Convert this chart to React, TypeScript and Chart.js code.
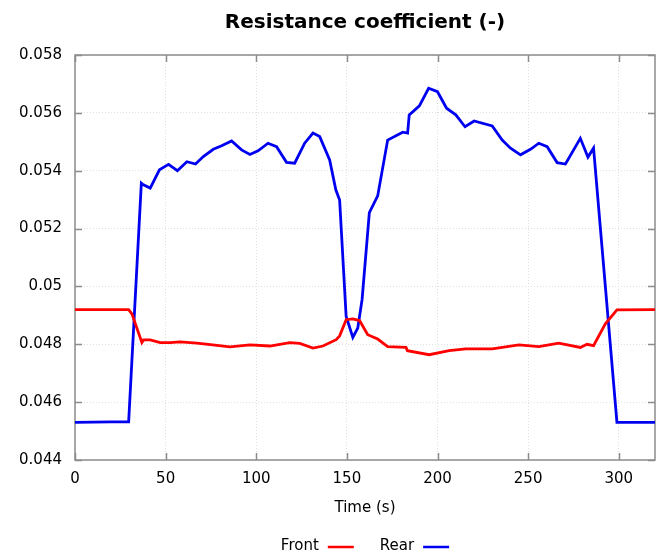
import React, { useEffect, useRef } from "react";
import { Chart, registerables } from "chart.js";

Chart.register(...registerables);

const chartTitle = "Resistance coefficient (-)";
const xAxisTitle = "Time (s)";
const seriesNames = ["Front", "Rear"];
const seriesColors = ["rgb(255,0,0)", "rgb(0,0,240)"];

const frontTime = [0, 29.6, 31.4, 36.9, 37.8, 41.5, 47, 52.5, 58, 67.2, 76, 85.5, 96.5, 107.5, 118.5, 124, 131.3, 136.8, 144.1, 146, 149.6, 153.3, 157, 161.5, 167, 172.5, 182.6, 183.4, 195.4, 206.4, 215.6, 230.2, 244.9, 255.9, 266.9, 278.8, 282.5, 286.1, 292.6, 299, 320];
const frontValue = [0.0492, 0.0492, 0.04905, 0.04806, 0.04815, 0.04815, 0.04806, 0.04806, 0.04808, 0.04804, 0.04798, 0.04791, 0.04798, 0.04794, 0.04806, 0.04803, 0.04787, 0.04794, 0.04816, 0.04829, 0.04885, 0.04888, 0.04882, 0.04833, 0.04818, 0.04792, 0.04789, 0.04778, 0.04764, 0.04778, 0.04784, 0.04784, 0.04798, 0.04792, 0.04804, 0.04789, 0.048, 0.04795, 0.04871, 0.04919, 0.0492];

const rearTime = [0, 20, 29.6, 36.6, 37.5, 41.5, 46.6, 51.6, 56.5, 61.7, 66.5, 70.8, 76.3, 80.9, 86.4, 91.9, 96.5, 101, 106.5, 111.2, 116.7, 121.2, 126.7, 131.3, 135, 140.5, 143.9, 146, 149.6, 153.3, 156, 158.4, 162.4, 167, 172.5, 180.8, 183.5, 184.4, 190, 195.1, 200, 205, 210.1, 215.2, 220.2, 230.2, 235.7, 240.3, 245.8, 251.3, 255.9, 260.5, 266, 270.6, 278.8, 283, 286.1, 299, 320];
const rearValue = [0.0453, 0.04532, 0.04532, 0.05357, 0.05352, 0.0534, 0.05403, 0.05422, 0.054, 0.05431, 0.05423, 0.05449, 0.05474, 0.05486, 0.05503, 0.05472, 0.05456, 0.05469, 0.05495, 0.05483, 0.05429, 0.05426, 0.05495, 0.0553, 0.05518, 0.05437, 0.05334, 0.05299, 0.04896, 0.04824, 0.04856, 0.04955, 0.05255, 0.05313, 0.05506, 0.05533, 0.0553, 0.05593, 0.05624, 0.05685, 0.05673, 0.05616, 0.05593, 0.05552, 0.05572, 0.05555, 0.05506, 0.05478, 0.05455, 0.05474, 0.05495, 0.05483, 0.05428, 0.05423, 0.05512, 0.05447, 0.05478, 0.0453, 0.0453];

const xTicks = [0, 50, 100, 150, 200, 250, 300];
const yTicks = [0.044, 0.046, 0.048, 0.05, 0.052, 0.054, 0.056, 0.058];
const yTickLabels = ["0.044", "0.046", "0.048", "0.05", "0.052", "0.054", "0.056", "0.058"];

const FONT = "'DejaVu Sans', Verdana, sans-serif";
const AXIS_COLOR = "#8c8c8c";

const framePlugin = {
  id: "frame",
  beforeDatasetsDraw(chart: any) {
    const { ctx, chartArea: a, scales } = chart;
    const xs = scales.x;
    const ys = scales.y;
    const L = 7;
    ctx.save();
    ctx.strokeStyle = AXIS_COLOR;
    ctx.lineWidth = 1.5;
    ctx.strokeRect(a.left, a.top, a.right - a.left, a.bottom - a.top);
    ctx.beginPath();
    xs.ticks.forEach((t: any) => {
      const px = Math.round(xs.getPixelForValue(t.value)) + 0.5;
      ctx.moveTo(px, a.bottom);
      ctx.lineTo(px, a.bottom - L);
      ctx.moveTo(px, a.top);
      ctx.lineTo(px, a.top + L);
    });
    ys.ticks.forEach((t: any) => {
      const py = Math.round(ys.getPixelForValue(t.value)) + 0.5;
      ctx.moveTo(a.left, py);
      ctx.lineTo(a.left + L, py);
      ctx.moveTo(a.right, py);
      ctx.lineTo(a.right - L, py);
    });
    ctx.stroke();
    ctx.restore();
  },
  afterDraw(chart: any) {
    const { ctx, chartArea: a } = chart;
    const cx = (a.left + a.right) / 2;
    ctx.save();
    ctx.fillStyle = "#000";
    ctx.font = `bold 20px ${FONT}`;
    ctx.textAlign = "center";
    ctx.textBaseline = "middle";
    ctx.fillText(chartTitle, cx, 23);
    ctx.font = `15px ${FONT}`;
    const lineW = 26;
    const gapText = 9;
    const gapItem = 26;
    const ds = chart.data.datasets;
    const widths = ds.map((d: any) => ctx.measureText(d.label).width + gapText + lineW);
    const total = widths.reduce((s: number, w: number) => s + w, 0) + gapItem * (ds.length - 1);
    let x = cx - total / 2;
    const y = 546;
    ctx.textAlign = "left";
    ds.forEach((d: any, i: number) => {
      ctx.fillStyle = "#000";
      ctx.fillText(d.label, x, y);
      const tw = ctx.measureText(d.label).width;
      ctx.strokeStyle = d.borderColor;
      ctx.lineWidth = 2.5;
      ctx.beginPath();
      ctx.moveTo(x + tw + gapText, y + 1);
      ctx.lineTo(x + tw + gapText + lineW, y + 1);
      ctx.stroke();
      x += widths[i] + gapItem;
    });
    ctx.restore();
  },
};

export default function App() {
  const ref = useRef<HTMLCanvasElement | null>(null);

  useEffect(() => {
    if (!ref.current) return;
    const toPoints = (t: number[], v: number[]) => t.map((tt, i) => ({ x: tt, y: v[i] }));
    const chart = new Chart(ref.current, {
      type: "line",
      data: {
        datasets: [
          {
            label: seriesNames[0],
            data: toPoints(frontTime, frontValue),
            borderColor: seriesColors[0],
            backgroundColor: seriesColors[0],
            borderWidth: 2.8,
            pointRadius: 0,
            tension: 0,
            fill: false,
          },
          {
            label: seriesNames[1],
            data: toPoints(rearTime, rearValue),
            borderColor: seriesColors[1],
            backgroundColor: seriesColors[1],
            borderWidth: 2.8,
            pointRadius: 0,
            tension: 0,
            fill: false,
          },
        ],
      },
      options: {
        animation: false,
        responsive: false,
        maintainAspectRatio: false,
        layout: { padding: { top: 55, right: 4, left: 0, bottom: 0 } },
        plugins: {
          legend: { display: false },
          title: { display: false },
          tooltip: { enabled: false },
        },
        scales: {
          x: {
            type: "linear",
            min: 0,
            max: 320,
            afterBuildTicks: (s: any) => {
              s.ticks = xTicks.map((v) => ({ value: v }));
            },
            afterFit: (s: any) => {
              s.height = 95;
            },
            grid: { color: "#e0e0e0", lineWidth: 1, drawTicks: false },
            border: { display: false, dash: [1, 2] },
            ticks: {
              color: "#000",
              font: { family: FONT, size: 15 },
              padding: 10,
              maxRotation: 0,
              callback: (v: any) => String(v),
            },
            title: {
              display: true,
              text: xAxisTitle,
              color: "#000",
              font: { family: FONT, size: 15 },
              padding: { top: 0, bottom: 38 },
            },
          },
          y: {
            type: "linear",
            min: 0.044,
            max: 0.058,
            afterBuildTicks: (s: any) => {
              s.ticks = yTicks.map((v) => ({ value: v }));
            },
            afterFit: (s: any) => {
              s.width = 75;
            },
            grid: { color: "#e0e0e0", lineWidth: 1, drawTicks: false },
            border: { display: false, dash: [1, 2] },
            ticks: {
              color: "#000",
              font: { family: FONT, size: 15 },
              padding: 13,
              callback: (_v: any, i: number) => yTickLabels[i],
            },
          },
        },
      },
      plugins: [framePlugin],
    });
    return () => chart.destroy();
  }, []);

  return (
    <div style={{ position: "fixed", left: 0, top: 0, width: 659, height: 555, background: "#fff" }}>
      <canvas ref={ref} width={659} height={555} style={{ width: 659, height: 555, display: "block" }} />
    </div>
  );
}
